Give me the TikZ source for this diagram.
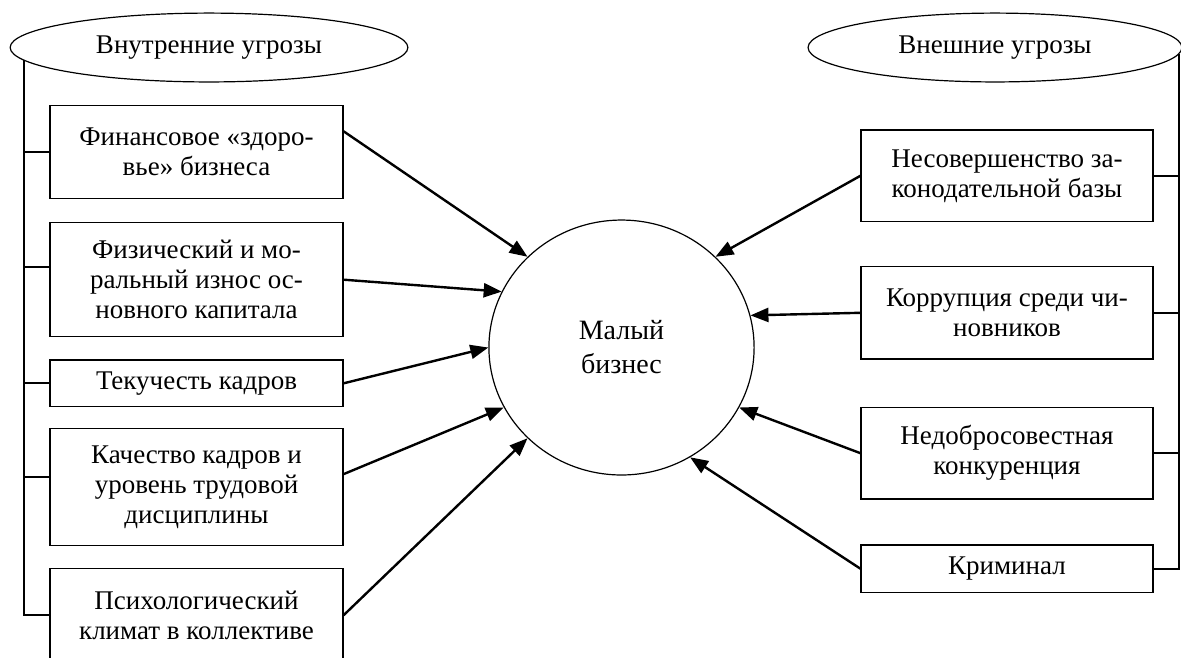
\documentclass[tikz,border=0pt]{standalone}
\usepackage{fontspec}
\setmainfont{Liberation Serif}
\usetikzlibrary{arrows.meta,shapes.geometric}

\begin{document}
\begin{tikzpicture}[threat/.style={draw, rectangle, line width=0.6pt, align=center, inner sep=2pt, font=\fontsize{13.5pt}{15pt}\selectfont},
                    group/.style={draw, ellipse, line width=0.6pt, minimum height=1.21cm, inner sep=0pt, font=\fontsize{13.5pt}{15pt}\selectfont},
                    bus/.style={line width=1pt},
                    arr/.style={line width=1.2pt, -{Triangle[length=9pt,width=7pt]}}
]
\clip (0,0) rectangle (20.754,-11.563);

\node [group, minimum width=6.99cm] at (3.673,-0.835) (inner) {Внутренние угрозы};
\node [group, minimum width=6.57cm] at (17.485,-0.835) (outer) {Внешние угрозы};
\node [draw, ellipse, line width=0.6pt, minimum width=4.66cm, minimum height=4.48cm, align=center,
       font=\fontsize{14pt}{17pt}\selectfont] at (10.922,-6.107) (biz) {Малый\\бизнес};
%
\node [threat, minimum width=5.15cm, minimum height=1.63cm] at (3.453,-2.671) (fin) {Финансовое «здоро-\\вье» бизнеса};
\node [threat, minimum width=5.15cm, minimum height=2.00cm] at (3.453,-4.915) (wear) {Физический и мо-\\ральный износ ос-\\новного капитала};
\node [threat, minimum width=5.15cm, minimum height=0.82cm] at (3.453,-6.736) (turn) {Текучесть кадров};
\node [threat, minimum width=5.15cm, minimum height=2.06cm] at (3.453,-8.558) (qual) {Качество кадров и\\уровень трудовой\\дисциплины};
\node [threat, minimum width=5.15cm, minimum height=1.65cm] at (3.453,-10.811) (clim) {Психологический\\климат в коллективе};
%
\node [threat, minimum width=5.13cm, minimum height=1.61cm] at (17.696,-3.089) (law) {Несовершенство за-\\конодательной базы};
\node [threat, minimum width=5.13cm, minimum height=1.62cm] at (17.696,-5.497) (corr) {Коррупция среди чи-\\новников};
\node [threat, minimum width=5.13cm, minimum height=1.61cm] at (17.696,-7.964) (comp) {Недобросовестная\\конкуренция};
\node [threat, minimum width=5.13cm, minimum height=0.83cm] at (17.696,-9.994) (crim) {Криминал};
%
\draw [bus] (inner.184) |- (clim.west);
\draw [bus] (fin.west) -- (fin.west -| inner.184);
\draw [bus] (wear.175) -- (wear.175 -| inner.184);
\draw [bus] (turn.west) -- (turn.west -| inner.184);
\draw [bus] (qual.176) -- (qual.176 -| inner.184);
%
\draw [bus] (outer.-2) |- (crim.east);
\draw [bus] (law.east) -- (law.east -| outer.-2);
\draw [bus] (corr.east) -- (corr.east -| outer.-2);
\draw [bus] (comp.east) -- (comp.east -| outer.-2);
%
\draw [arr] (fin.8) -- (biz.136);
\draw [arr] (wear.east) -- (biz.155);
\draw [arr] (turn.east) -- (biz.180);
\draw [arr] (qual.5) -- (biz.207);
\draw [arr] (clim.east) -- (biz.224);
%
\draw [arr] (law.west) -- (biz.44);
\draw [arr] (corr.west) -- (biz.14);
\draw [arr] (comp.west) -- (biz.333);
\draw [arr] (crim.west) -- (biz.302);
\end{tikzpicture}
\end{document}
